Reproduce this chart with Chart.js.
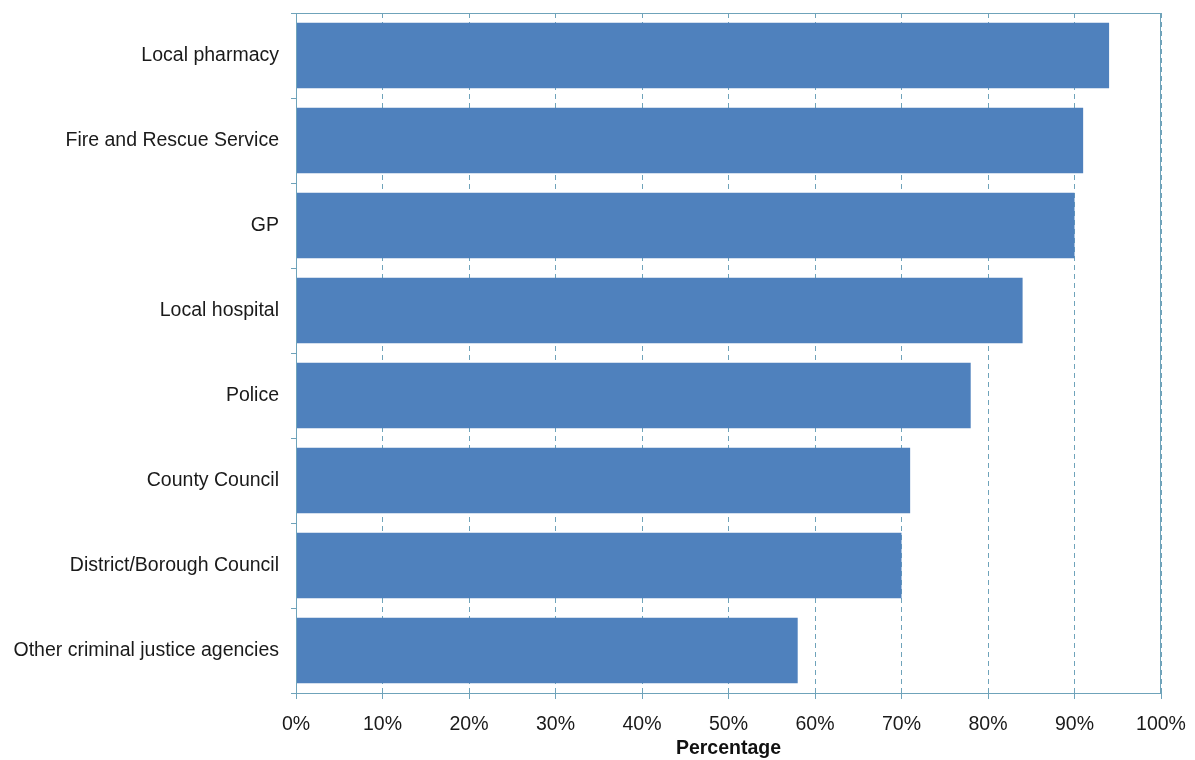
<!DOCTYPE html>
<html>
<head>
<meta charset="utf-8">
<script src="https://cdn.jsdelivr.net/npm/chart.js@4.4.0/dist/chart.umd.min.js"></script>
<style>
  html, body { margin: 0; padding: 0; background: #fff; }
  #wrap { width: 1195px; height: 760px; position: relative; }
</style>
</head>
<body>
<div id="wrap"><canvas id="agencies_chart"></canvas></div>
<script>
var categories = ['Local pharmacy', 'Fire and Rescue Service', 'GP', 'Local hospital',
  'Police', 'County Council', 'District/Borough Council', 'Other criminal justice agencies'];
var percentages = [94, 91, 90, 84, 78, 71, 70, 58];
var xTickLabels = ['0%', '10%', '20%', '30%', '40%', '50%', '60%', '70%', '80%', '90%', '100%'];

var lineColour = '#6fa3ba';
var fontFamily = '"Liberation Sans", Arial, sans-serif';

// solid frame round the plot area (top and right edges)
var frame = {
  id: 'frame',
  afterDraw: function(chart) {
    var a = chart.chartArea, ctx = chart.ctx;
    ctx.save();
    ctx.strokeStyle = lineColour;
    ctx.lineWidth = 1;
    ctx.strokeRect(a.left + 0.5, a.top + 0.5, a.right - a.left - 1, a.bottom - a.top);
    ctx.restore();
  }
};

var myChart = document.getElementById('agencies_chart');
var barChart = new Chart(myChart, {
  type: 'bar',
  data: {
    labels: categories,
    datasets: [{
      label: 'Percentage',
      data: percentages,
      backgroundColor: '#4f81bd',
      borderWidth: 0,
      barPercentage: 0.77,
      categoryPercentage: 1
    }]
  },
  options: {
    indexAxis: 'y',
    responsive: true,
    maintainAspectRatio: false,
    animation: false,
    layout: { padding: { top: 13, right: 34, left: 0, bottom: 0 } },
    plugins: {
      legend: { display: false },
      tooltip: { enabled: false }
    },
    scales: {
      x: {
        min: 0,
        max: 100,
        afterFit: function(scale) {
          scale.height = 67;
          scale.paddingLeft = 0;
          scale.paddingRight = 0;
        },
        ticks: {
          stepSize: 10,
          color: '#1a1a1a',
          padding: 14,
          font: { family: fontFamily, size: 19.5 },
          callback: function(value, index) { return xTickLabels[index]; }
        },
        grid: {
          color: lineColour,
          tickLength: 6,
          drawTicks: true
        },
        border: { display: true, color: lineColour, dash: [5, 4] },
        title: {
          display: true,
          text: 'Percentage',
          color: '#111',
          padding: { top: 0, bottom: 0 },
          font: { family: fontFamily, size: 19.5, weight: 'bold' }
        }
      },
      y: {
        afterFit: function(scale) {
          scale.width = 296;
          scale.paddingTop = 0;
          scale.paddingBottom = 0;
        },
        ticks: {
          color: '#1a1a1a',
          padding: 12,
          font: { family: fontFamily, size: 19.5 }
        },
        grid: {
          offset: true,
          drawOnChartArea: false,
          color: lineColour,
          tickLength: 5
        },
        border: { display: true, color: lineColour }
      }
    }
  },
  plugins: [frame]
});
</script>
</body>
</html>
